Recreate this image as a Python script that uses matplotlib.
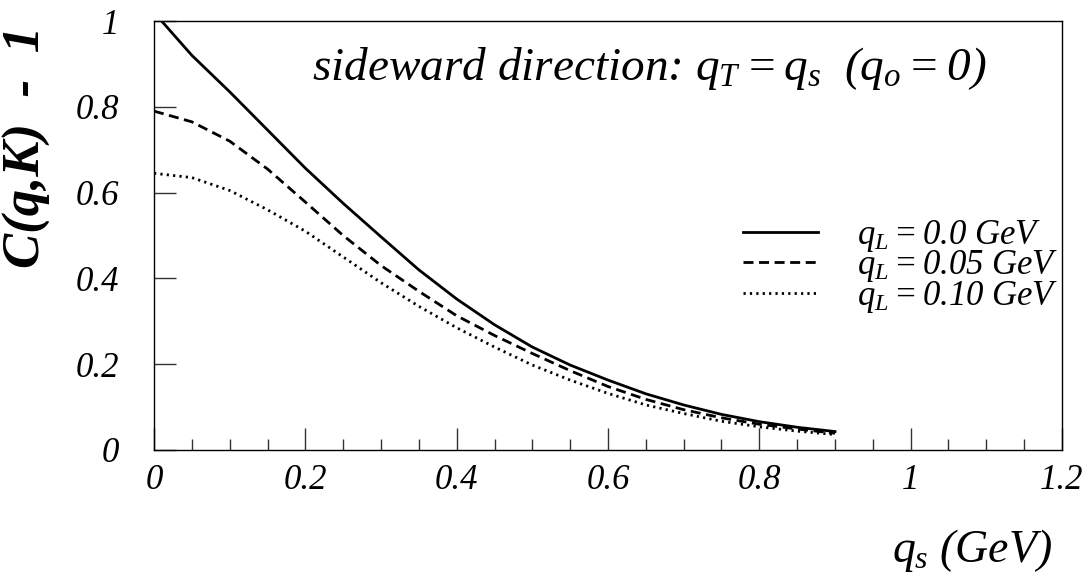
import numpy as np
import matplotlib
matplotlib.use("Agg")
import matplotlib.pyplot as plt

# C(q,K)-1 along the sideward direction
q_s = [0.0, 0.05, 0.1, 0.15, 0.2, 0.25, 0.3, 0.35, 0.4, 0.45,
       0.5, 0.55, 0.6, 0.65, 0.7, 0.75, 0.8, 0.85, 0.9]
c_qL_000 = [1.02, 0.92, 0.835, 0.746, 0.657, 0.575, 0.497, 0.42, 0.352, 0.292,
            0.24, 0.198, 0.163, 0.131, 0.105, 0.083, 0.066, 0.053, 0.043]
c_qL_005 = [0.79, 0.765, 0.72, 0.655, 0.578, 0.50, 0.43, 0.37, 0.313, 0.267,
            0.225, 0.185, 0.148, 0.118, 0.094, 0.075, 0.06, 0.049, 0.039]
c_qL_010 = [0.645, 0.635, 0.605, 0.56, 0.51, 0.45, 0.39, 0.335, 0.285, 0.24,
            0.198, 0.163, 0.132, 0.105, 0.085, 0.067, 0.054, 0.044, 0.036]
labels = [r"$q_L = 0.0\ GeV$", r"$q_L = 0.05\ GeV$", r"$q_L = 0.10\ GeV$"]

plt.rcParams['font.family'] = ['Liberation Serif', 'DejaVu Serif']
plt.rcParams['font.style'] = 'italic'
plt.rcParams['mathtext.fontset'] = 'custom'
plt.rcParams['mathtext.rm'] = 'Liberation Serif:italic'
plt.rcParams['mathtext.it'] = 'Liberation Serif:italic'
plt.rcParams['mathtext.bf'] = 'Liberation Serif:italic:bold'

fig = plt.figure(figsize=(10.9, 5.79), dpi=100)
ax = fig.add_axes([0.1413, 0.2228, 0.833, 0.7409])

ax.plot(q_s, c_qL_000, color='black', lw=2.0, ls='-', label=labels[0])
ax.plot(q_s, c_qL_005, color='black', lw=2.0, ls=(0, (3.6, 2.0)), label=labels[1])
ax.plot(q_s, c_qL_010, color='black', lw=2.0, ls=(0, (0.8, 1.5)), label=labels[2])

ax.set_xlim(0, 1.2)
ax.set_ylim(0, 1)
ax.set_xticks(np.arange(0, 1.21, 0.2))
ax.set_xticklabels(["0", "0.2", "0.4", "0.6", "0.8", "1", "1.2"])
ax.set_xticks(np.arange(0, 1.21, 0.05), minor=True)
ax.set_yticks(np.arange(0, 1.01, 0.2))
ax.set_yticklabels(["0", "0.2", "0.4", "0.6", "0.8", "1"])

ax.tick_params(axis='both', which='both', direction='in', top=False, right=False,
               labelsize=25, color='#333333')
ax.tick_params(axis='both', which='major', length=16, width=1)
ax.tick_params(axis='x', which='minor', length=8, width=1)
ax.tick_params(axis='x', which='major', pad=10)
ax.tick_params(axis='y', which='major', pad=25)
for sp in ax.spines.values():
    sp.set_linewidth(1.0)

leg = ax.legend(loc='upper left', bbox_to_anchor=(0.630, 0.582), frameon=False,
                fontsize=25, handlelength=2.16, handletextpad=1.1,
                labelspacing=-0.15, borderpad=0)

fig.text(312 / 1090, 1 - 80 / 579,
         r"sideward direction: $q_T = q_s\ \ (q_o = 0)$",
         fontsize=34, ha='left', va='baseline')
fig.text(1052 / 1090, 1 - 562 / 579, r"$q_s\ (GeV)$",
         fontsize=33, ha='right', va='baseline')
fig.text(27 / 1090, 1 - 147 / 579, "C(q,K)  -  1", rotation=90,
         fontsize=38, fontweight='bold', ha='center', va='center')

fig.savefig("out.png", dpi=100)
